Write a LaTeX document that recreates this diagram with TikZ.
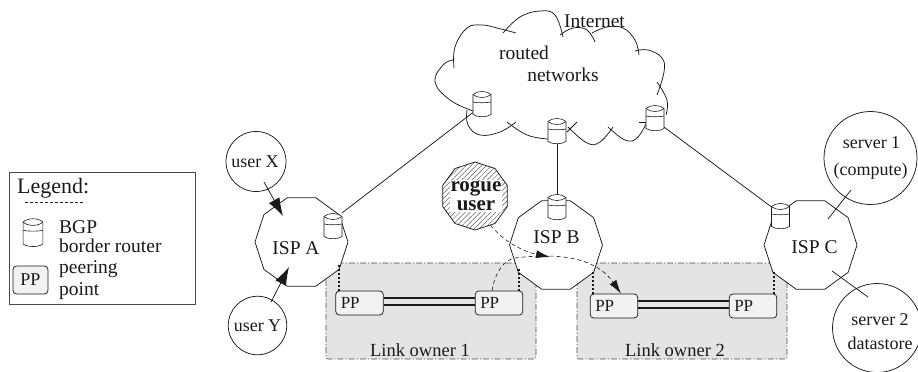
\documentclass[tikz,border=0pt]{standalone}
\usepackage{fontspec}
\setmainfont{Liberation Serif}
\usepackage{xcolor}
\usepackage{tikz}
\usetikzlibrary{calc,patterns.meta,arrows.meta,shapes.geometric}
\definecolor{ink}{HTML}{1A1A1A}
\definecolor{ownerfill}{HTML}{E4E4E4}
\definecolor{ppfill}{HTML}{F2F2F2}
\tikzset{
  geom/.style={draw=ink, line width=0.75pt},
  lab/.style={text=ink, font=\fontsize{19.5}{22}\selectfont, inner sep=0pt, align=center},
  isp/.style={geom, fill=white, regular polygon, regular polygon sides=10, minimum size=93pt, inner sep=0pt},
  rogue/.style={geom, regular polygon, regular polygon sides=10, shape border rotate=18, minimum size=68pt, inner sep=0pt, pattern={Lines[angle=45,distance=3.6pt,line width=0.5pt]}, pattern color=ink!70},
  endpoint/.style={geom, circle, inner sep=0pt, text=ink, align=center},
  owner/.style={draw=ink!80, line width=0.6pt, dash pattern=on 6pt off 2pt on 1.2pt off 2pt, fill=ownerfill, rounded corners=2pt, inner sep=0pt},
  ppbox/.style={geom, fill=ppfill, rounded corners=3.5pt, text width=37.5pt, minimum height=24pt, inner xsep=5pt, inner ysep=0pt, align=left, text=ink, font=\fontsize{17}{19}\selectfont},
  tie/.style={draw=ink, line width=1.8pt, dash pattern=on 2pt off 2pt},
  thick link/.style={draw=ink, line width=2pt},
  rogue path/.style={draw=ink, line width=0.6pt, dash pattern=on 4pt off 3pt},
  head/.style={-{Latex[length=18pt,width=12pt]}},
  small head/.style={-{Latex[length=14pt,width=8pt]}},
}
% border router: name, centre, scale
\newcommand{\router}[3]{%
  \node[minimum width=18pt, minimum height=26pt, inner sep=0pt] (#1) at (#2) {};
  \begin{scope}[shift={(#2)}, scale=#3]
    \draw[geom, line width=0.6pt, fill=white] (-9,-9.5) -- (-9,10.5)
      .. controls (-5,13.5) and (5,13.5) .. (9,10.5) -- (9,-9.5)
      .. controls (5,-13.5) and (-5,-13.5) .. cycle;
    \draw[geom, line width=0.6pt] (-9,-9.5) .. controls (-5,-5.5) and (5,-5.5) .. (9,-9.5);
    \draw[geom, line width=0.6pt] (-9,-2) .. controls (-5,-1) and (5,-1) .. (9,-2);
  \end{scope}
}
\begin{document}
\begin{tikzpicture}[x=1pt,y=-1pt]
\useasboundingbox (0,0) rectangle (918,372);
% legend
\node[draw=ink!80, line width=0.8pt, minimum width=186pt, minimum height=132pt, inner sep=0pt] (legend) at (102.5,238) {};
\node[lab, anchor=west, font=\fontsize{22}{24}\selectfont] (legendtitle) at (17,188) {Legend:};
\draw[geom, line width=0.5pt, dash pattern=on 3pt off 2pt] (25,202) -- (84,202);
\router{legendrouter}{33,232.5}{1.1}
\node[lab, anchor=west] (bgp) at (59,227) {BGP};
\node[lab, anchor=west] (border) at (59,246) {border router};
\node[ppbox, text width=25pt, minimum height=28pt, font=\fontsize{18}{20}\selectfont, align=center] (legendpp) at (30.5,280) {PP};
\node[lab, anchor=west] (peering) at (59,269) {peering};
\node[lab, anchor=west] (point) at (59,291) {point};
% cloud
\draw[geom] plot[smooth, tension=0.7] coordinates {(473,111) (450,100) (435,82) (443,65) (453,60)};
\draw[geom] plot[smooth, tension=0.7] coordinates {(454,68) (455,47) (467,28) (482,25) (497,28) (516,33)};
\draw[geom] plot[smooth, tension=0.7] coordinates {(503,33) (520,17) (540,11) (555,15) (563,37)};
\draw[geom] plot[smooth, tension=0.7] coordinates {(560,35) (573,28) (587,30) (595,42)};
\draw[geom] plot[smooth, tension=0.7] coordinates {(592,33) (607,27) (623,28) (635,40) (639,55)};
\draw[geom] plot[smooth, tension=0.7] coordinates {(635,51) (648,50) (662,58) (664,72) (657,95)};
\draw[geom] plot[smooth, tension=0.7] coordinates {(657,82) (667,100) (666,115)};
\draw[geom] plot[smooth, tension=0.7] coordinates {(467,110) (468,125) (480,135) (500,132) (516,122)};
\draw[geom] plot[smooth, tension=0.7] coordinates {(507,122) (527,135) (548,139)};
\draw[geom] plot[smooth, tension=0.7] coordinates {(568,127) (587,143) (600,142) (613,127)};
\draw[geom] plot[smooth, tension=0.7] coordinates {(608,127) (625,140) (637,138) (647,122)};
\draw[geom] (567,132) -- (577,122);
\draw[geom] (639,122) -- (647,122);
\router{routertop}{482,104}{1}
\router{routermid}{557,131}{1}
\router{routerright}{655,118}{1}
\node[lab] (routed) at (524,53) {routed};
\node[lab] (networks) at (563,75) {networks};
\node[lab] (internet) at (594.5,21) {Internet};
% owners
\node[owner, minimum width=210pt, minimum height=96pt] (owner1) at (431,311) {};
\node[owner, minimum width=210pt, minimum height=96pt] (owner2) at (682,311) {};
% isps
\node[isp] (ispa) at (301.5,242) {};
\node[isp] (ispb) at (556,245) {};
\node[isp] (ispc) at (810.5,245) {};
\node[lab] (ispatext) at (296,248) {ISP A};
\node[lab] (ispbtext) at (556.5,237) {ISP B};
\node[lab] (ispctext) at (814.5,247) {ISP C};
\node[rogue] (rogue) at (475,196) {};
\node[lab, fill=white, inner sep=0.5pt, font=\bfseries\fontsize{21}{19}\selectfont] (roguetext) at (476,196) {rogue\\user};
% routers on isps
\router{routera}{333,226}{1}
\router{routerb}{557,207}{1}
\router{routerc}{780.5,216}{1}
% uplinks
\draw[geom] (routera.north east) -- (routertop.223);
\draw[geom] (routerb.north) -- (routermid.south);
\draw[geom] (routerc.135) -- (routerright.-45);
% users and servers
\node[endpoint, minimum size=60pt, font=\fontsize{18}{20}\selectfont] (userx) at (256,161.5) {\hspace*{-2pt}user X};
\node[endpoint, minimum size=58.5pt, font=\fontsize{18}{20}\selectfont] (usery) at (257.5,325.5) {user Y};
\node[endpoint, minimum size=93pt, font=\fontsize{18}{27}\selectfont] (server1) at (870.5,158) {\hspace*{2pt}server 1\\(compute)};
\node[endpoint, minimum size=89pt] (server2) at (877,328) {};
\node[lab, font=\fontsize{18}{24}\selectfont] (server2text) at (880,332) {server 2\\datastore};
\coordinate (xstart) at (264,182);
\coordinate (xend) at (283,216);
\coordinate (ystart) at (271,302);
\coordinate (yend) at (289,267);
\draw[geom, head] (xstart) -- (xend);
\draw[geom, head] (ystart) -- (yend);
\coordinate (s1a) at (828,219);
\coordinate (s1b) at (851,190);
\coordinate (s2a) at (832,271);
\coordinate (s2b) at (868,297);
\draw[geom] (s1a) -- (s1b);
\draw[geom] (s2a) -- (s2b);
% peering points
\node[ppbox] (pp1) at (359.5,303) {PP};
\node[ppbox] (pp2) at (499,303) {PP};
\node[ppbox] (pp3) at (614,306) {PP};
\node[ppbox] (pp4) at (753,306) {PP};
\foreach \a/\b in {pp1/pp2,pp3/pp4}{
  \draw[thick link] ($(\a.east)+(0,-5.5)$) -- ($(\b.west)+(0,-5.5)$);
  \draw[thick link] ($(\a.east)+(0,2)$) -- ($(\b.west)+(0,2)$);
}
\draw[tie] (339,291) -- (339,265);
\draw[tie] (519,291) -- (519,267);
\draw[tie] (593,294) -- (593,270);
\draw[tie] (774,294) -- (774,270);
\node[lab, font=\fontsize{18.5}{20}\selectfont] (owner1label) at (420,350) {Link owner 1};
\node[lab, font=\fontsize{18.5}{20}\selectfont] (owner2label) at (675,350) {Link owner 2};
% rogue path
\coordinate (tipb) at (550,257);
\coordinate (bendb) at (515,258);
\draw[rogue path, small head] (rogue.-62) .. controls (505,243) and (525,252) .. (tipb);
\draw[rogue path, small head] ($(pp2.north)+(-7,0)$) .. controls (495,272) and (505,259) .. (bendb)
  .. controls (555,253) and (595,256) .. ($(pp3.north)+(7,0)$);
\end{tikzpicture}
\end{document}
